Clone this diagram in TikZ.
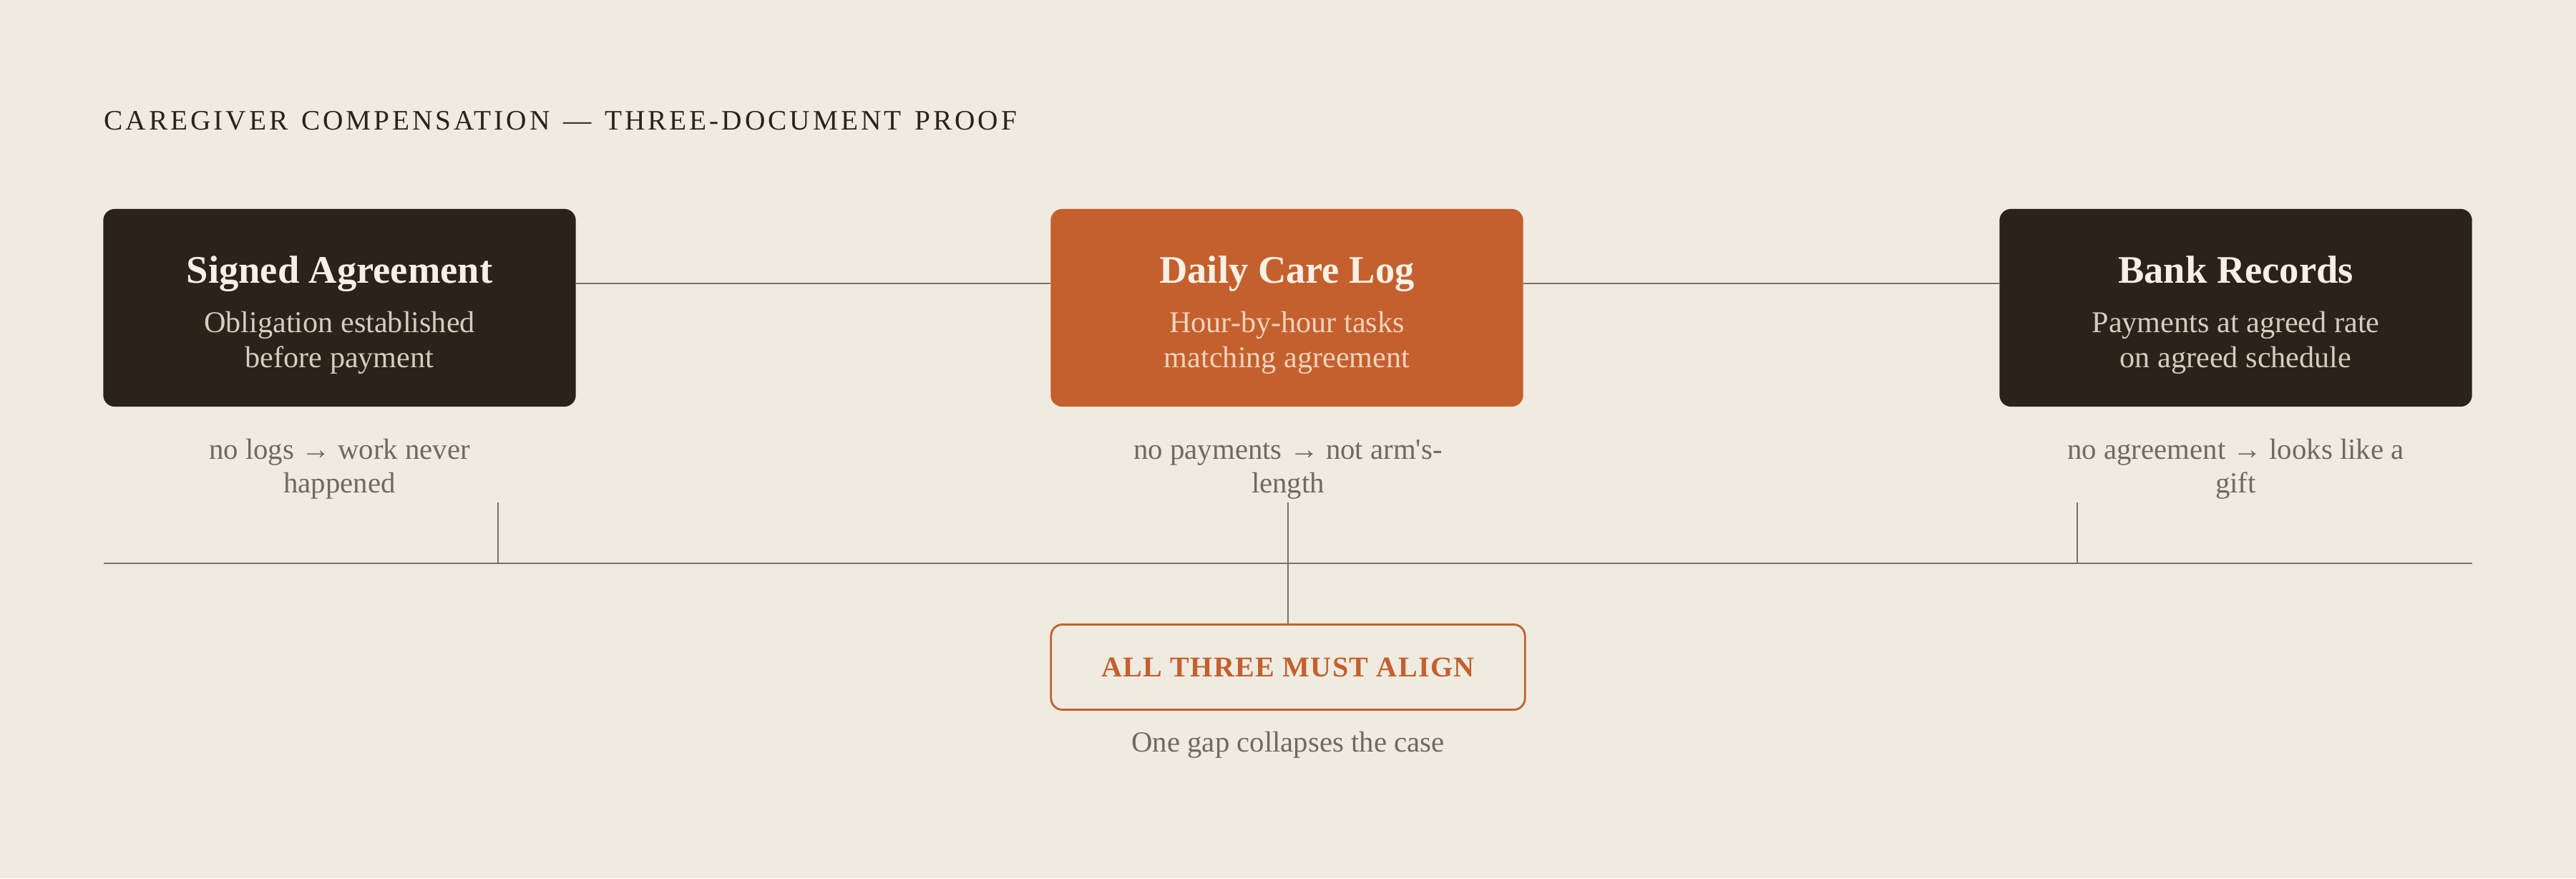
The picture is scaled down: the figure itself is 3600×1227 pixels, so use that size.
\documentclass[tikz,border=0pt]{standalone}
\usepackage{fontspec}
\setmainfont{Liberation Serif}
\newfontfamily\hdrfont[LetterSpace=10,WordSpace=1.35]{Liberation Serif}
\newfontfamily\alignfont[LetterSpace=3.3]{Liberation Serif}
\usetikzlibrary{calc}
\definecolor{bgc}{HTML}{EFEBE1}
\definecolor{darkc}{HTML}{2B221A}
\definecolor{orangec}{HTML}{C4602D}
\definecolor{titlec}{HTML}{F6F0E6}
\definecolor{subdark}{HTML}{D6CDBF}
\definecolor{suborange}{HTML}{F0D3BF}
\definecolor{notec}{HTML}{6F6A60}
\definecolor{linec}{HTML}{77736A}
\tikzset{
  card/.style={rounded corners=0.16cm, minimum width=6.6cm, minimum height=2.76cm, inner sep=0pt, draw=none},
  darkcard/.style={card, fill=darkc},
  orangecard/.style={card, fill=orangec},
  cardtitle/.style={anchor=base, inner sep=0pt, text=titlec, font=\bfseries\fontsize{15.5pt}{18pt}\selectfont},
  cardsub/.style={anchor=base, inner sep=0pt, font=\fontsize{12pt}{14pt}\selectfont},
  notetext/.style={anchor=base, inner sep=0pt, text=notec, font=\fontsize{11.6pt}{14pt}\selectfont},
  link/.style={draw=linec, line width=0.7pt},
  tickline/.style={draw=linec, line width=0.6pt},
  alignbox/.style={draw=orangec, line width=0.8pt, fill=bgc, rounded corners=0.16cm, minimum width=6.62cm, minimum height=1.19cm, inner sep=0pt, text=orangec, font=\alignfont\bfseries\fontsize{11.4pt}{13pt}\selectfont}
}
\begin{document}
\begin{tikzpicture}[x=0.01cm, y=-0.01cm]
\fill[bgc] (0,0) rectangle (3600,1227);
\useasboundingbox (0,0) rectangle (3600,1227);

% header
\node[anchor=base west, inner sep=0pt, text=darkc] (hdr) at (145,181)
  {\hdrfont\fontsize{11.2pt}{13pt}\selectfont CAREGIVER COMPENSATION — THREE-DOCUMENT PROOF};

% cards
\node[darkcard] (agree) at (474.5,430) {};
\node[orangecard] (log) at (1798.5,430) {};
\node[darkcard] (bank) at (3124.5,430) {};

\node[cardtitle] (agreeT) at (474.5,395) {Signed Agreement};
\node[cardsub, text=subdark] (agreeS1) at (474.5,464) {Obligation established};
\node[cardsub, text=subdark] (agreeS2) at (474.5,513) {before payment};

\node[cardtitle] (logT) at (1798.5,395) {Daily Care Log};
\node[cardsub, text=suborange] (logS1) at (1798.5,464) {Hour-by-hour tasks};
\node[cardsub, text=suborange] (logS2) at (1798.5,513) {matching agreement};

\node[cardtitle] (bankT) at (3124.5,395) {Bank Records};
\node[cardsub, text=subdark] (bankS1) at (3124.5,464) {Payments at agreed rate};
\node[cardsub, text=subdark] (bankS2) at (3124.5,513) {on agreed schedule};

% connectors between cards
\draw[link] ([yshift=0.34cm]agree.east) -- ([yshift=0.34cm]log.west);
\draw[link] ([yshift=0.34cm]log.east) -- ([yshift=0.34cm]bank.west);

% notes
\node[notetext] (n1a) at (474.5,641) {no logs → work never};
\node[notetext] (n1b) at (474.5,688) {happened};
\node[notetext] (n2a) at (1800,641) {no payments → not arm\textquotesingle s-};
\node[notetext] (n2b) at (1800,688) {length};
\node[notetext] (n3a) at (3124.5,641) {no agreement → looks like a};
\node[notetext] (n3b) at (3124.5,688) {gift};

% rail
\coordinate (railL) at (145,787);
\coordinate (railR) at (3455,787);
\draw[link] (railL) -- (railR);

% result box
\node[alignbox] (all) at (1800,932) {ALL THREE MUST ALIGN};
\node[notetext] (gap) at (1800,1050) {One gap collapses the case};

% ticks
\coordinate (t1) at (696,702);
\coordinate (t2) at (1800,702);
\coordinate (t3) at (2903,702);
\draw[tickline] (t1) -- (t1 |- railL);
\draw[tickline] (t2) -- (all.north);
\draw[tickline] (t3) -- (t3 |- railL);
\end{tikzpicture}
\end{document}
